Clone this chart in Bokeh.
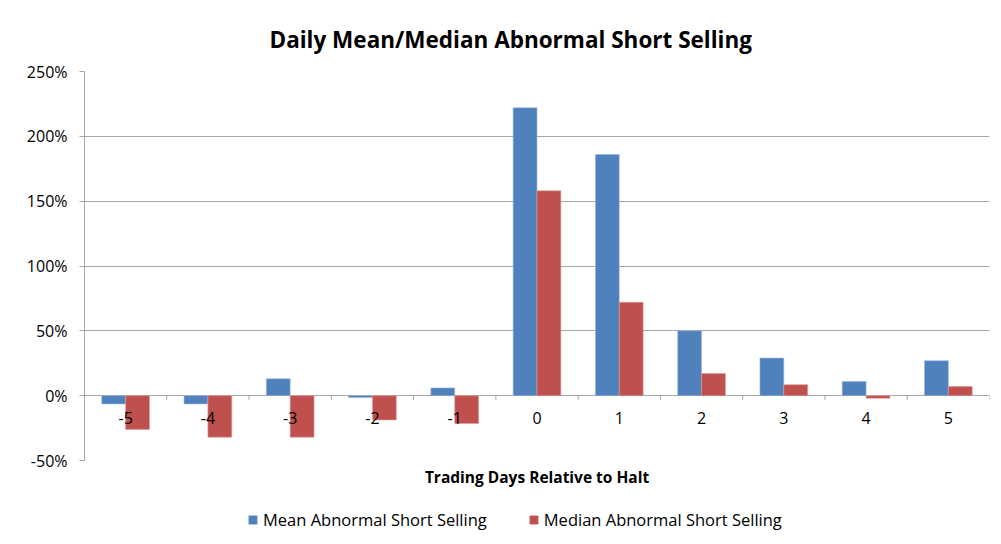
from bokeh.plotting import figure
from bokeh.layouts import column
from bokeh.models import Range1d, PrintfTickFormatter, Legend, LegendItem, FixedTicker, ColumnDataSource
from bokeh.core.properties import value
from bokeh.embed import file_html
from bokeh.resources import INLINE

days = [-5, -4, -3, -2, -1, 0, 1, 2, 3, 4, 5]
day_labels = ["-5", "-4", "-3", "-2", "-1", "0", "1", "2", "3", "4", "5"]
mean_ass = [-6.4, -6.4, 13, -1.5, 6, 222, 186, 50, 29, 11, 27]
median_ass = [-26, -32, -32, -18.7, -21.5, 158, 72, 17, 8.5, -2, 7]
y_ticks = [-50, 0, 50, 100, 150, 200, 250]
series_names = ["Mean Abnormal Short Selling", "Median Abnormal Short Selling"]

FONT = "Open Sans"
BLUE = "#4F81BD"
RED = "#C0504D"
GRID = "#a6a6a6"

p = figure(width=1001, height=500, output_backend="svg", toolbar_location=None,
           x_range=Range1d(-5.5, 5.5), y_range=Range1d(-50, 250),
           min_border_left=84, min_border_right=12, min_border_top=71, min_border_bottom=40)
p.outline_line_color = None
p.background_fill_color = "white"
p.border_fill_color = "white"

# title
p.title.text = "Daily Mean/Median Abnormal Short Selling"
p.title.text_font = FONT
p.title.text_font_size = "22.5px"
p.title.text_font_style = "bold"
p.title.align = "left"
p.title.offset = 185
p.title.standoff = 34
p.title.text_color = "black"

src = ColumnDataSource(dict(
    x=days,
    xm=[d - 0.145 for d in days],
    xd=[d + 0.145 for d in days],
    mean=mean_ass, median=median_ass, lab=day_labels))

p.vbar(x="xm", top="mean", bottom=0, width=0.29, source=src, fill_color=BLUE,
       line_color="#9db7dd", line_width=0.6)
p.vbar(x="xd", top="median", bottom=0, width=0.29, source=src, fill_color=RED,
       line_color="#dc9a98", line_width=0.6)

# category tick marks on zero line
bounds = [d - 0.5 for d in days] + [days[-1] + 0.5]
p.segment(x0=bounds, x1=bounds, y0=[0] * len(bounds), y1=[-3.2] * len(bounds), line_color=GRID, line_width=1)

# category labels next to the zero line
p.text(x="x", y=0, text="lab", source=src, text_align="center", text_baseline="middle",
       y_offset=22, text_font=value(FONT), text_font_size="16px", text_color="black")

# y axis
p.yaxis.ticker = FixedTicker(ticks=y_ticks)
p.yaxis.formatter = PrintfTickFormatter(format="%d%%")
p.yaxis.axis_line_color = GRID
p.yaxis.major_tick_line_color = GRID
p.yaxis.major_tick_out = 5
p.yaxis.major_tick_in = 0
p.yaxis.minor_tick_line_color = None
p.yaxis.major_label_standoff = 12
p.yaxis.major_label_text_font = FONT
p.yaxis.major_label_text_font_size = "16px"
p.yaxis.major_label_text_color = "black"

# grid
p.ygrid.ticker = FixedTicker(ticks=y_ticks)
p.ygrid.grid_line_color = GRID
p.xgrid.grid_line_color = None

# x axis (title only)
p.xaxis.ticker = FixedTicker(ticks=[])
p.xaxis.axis_line_color = None
p.xaxis.major_tick_line_color = None
p.xaxis.minor_tick_line_color = None
p.xaxis.major_label_text_font_size = "0px"
p.xaxis.axis_label = "Trading Days Relative to Halt"
p.xaxis.axis_label_text_font = FONT
p.xaxis.axis_label_text_font_size = "15.5px"
p.xaxis.axis_label_text_font_style = "bold"
p.xaxis.axis_label_text_color = "black"
p.xaxis.axis_label_standoff = 5

# legend strip below the chart (its frame is aligned with the chart's frame)
lg = figure(width=1001, height=44, output_backend="svg", toolbar_location=None,
            x_range=Range1d(0, 1), y_range=Range1d(0, 1),
            x_axis_location=None, y_axis_location=None, min_border=0)
lg.outline_line_color = None
lg.xgrid.grid_line_color = None
lg.ygrid.grid_line_color = None
lr1 = lg.vbar(x=[0.5], top=[0.5], width=0.1, fill_color=BLUE, line_color=None, visible=False)
lr2 = lg.vbar(x=[0.5], top=[0.5], width=0.1, fill_color=RED, line_color=None, visible=False)

legend = Legend(items=[LegendItem(label=series_names[0], renderers=[lr1]),
                       LegendItem(label=series_names[1], renderers=[lr2])],
                orientation="horizontal", location=(163, 13))
legend.glyph_width = 11
legend.glyph_height = 11
legend.label_standoff = 5
legend.spacing = 41
legend.padding = 0
legend.margin = 0
legend.border_line_color = None
legend.background_fill_color = None
legend.label_text_font = FONT
legend.label_text_font_size = "16.5px"
legend.label_text_color = "black"
lg.add_layout(legend)

layout = column(p, lg, spacing=0)
open("out.html", "w").write(file_html(layout, INLINE))
